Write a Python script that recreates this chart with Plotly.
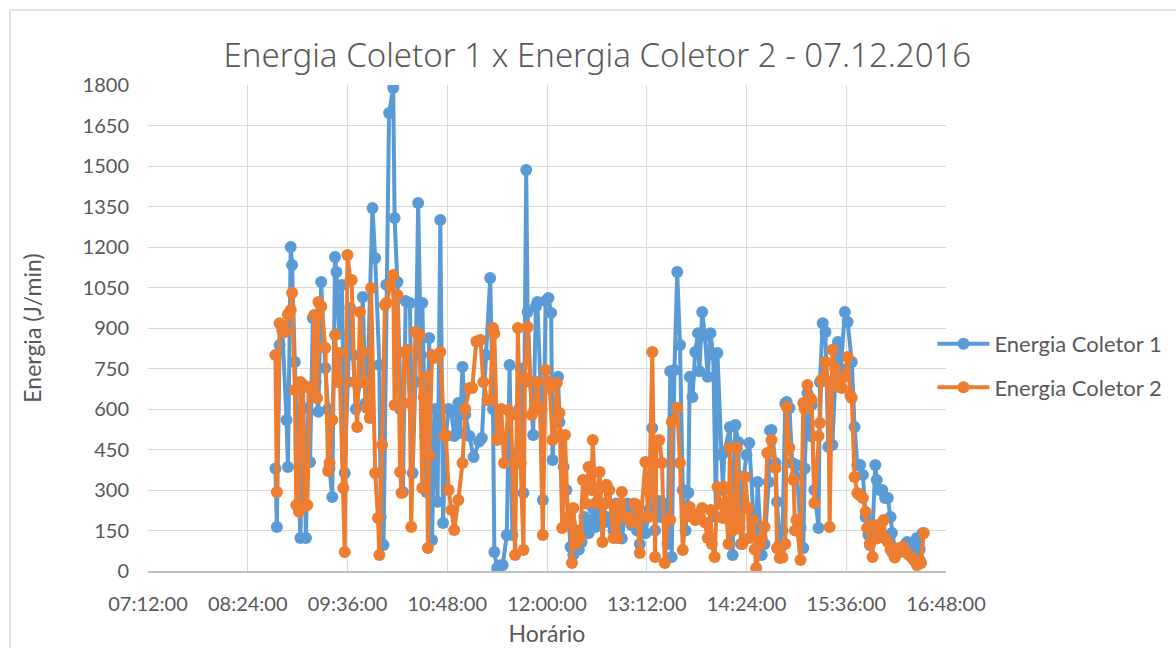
import plotly.graph_objects as go

DAY = "2016-12-07 "

c1_times = [
    "08:44", "08:45", "08:47", "08:49", "08:52", "08:53", "08:55", "08:56", "08:58", "09:02",
    "09:04", "09:06", "09:08", "09:09", "09:11", "09:13", "09:15", "09:17", "09:20", "09:22",
    "09:23", "09:25", "09:27", "09:28", "09:30", "09:32", "09:34", "09:36", "09:38", "09:40",
    "09:42", "09:45", "09:47", "09:49", "09:51", "09:54", "09:56", "09:59", "10:00", "10:02",
    "10:04", "10:06", "10:09", "10:10", "10:12", "10:14", "10:16", "10:18", "10:21", "10:23",
    "10:25", "10:27", "10:29", "10:30", "10:32", "10:33", "10:35", "10:37", "10:39", "10:41",
    "10:43", "10:45", "10:47", "10:49", "10:51", "10:53", "10:56", "10:57", "10:59", "11:01",
    "11:04", "11:07", "11:11", "11:13", "11:16", "11:19", "11:21", "11:22", "11:24", "11:26",
    "11:28", "11:31", "11:33", "11:35", "11:37", "11:40", "11:41", "11:43", "11:45", "11:46",
    "11:48", "11:50", "11:52", "11:53", "11:56", "11:57", "11:59", "12:01", "12:03", "12:04",
    "12:06", "12:08", "12:09", "12:12", "12:14", "12:17", "12:19", "12:21", "12:23", "12:25",
    "12:27", "12:30", "12:32", "12:33", "12:35", "12:37", "12:39", "12:41", "12:43", "12:45",
    "12:48", "12:50", "12:52", "12:54", "12:56", "12:58", "13:01", "13:03", "13:05", "13:07",
    "13:09", "13:11", "13:14", "13:16", "13:18", "13:20", "13:22", "13:24", "13:27", "13:29",
    "13:30", "13:32", "13:34", "13:36", "13:38", "13:40", "13:42", "13:43", "13:45", "13:47",
    "13:49", "13:50", "13:52", "13:54", "13:56", "13:58", "14:00", "14:02", "14:03", "14:06",
    "14:07", "14:08", "14:12", "14:14", "14:16", "14:18", "14:20", "14:22", "14:24", "14:26",
    "14:29", "14:31", "14:32", "14:35", "14:37", "14:40", "14:41", "14:42", "14:45", "14:46",
    "14:48", "14:50", "14:52", "14:53", "14:55", "14:57", "14:59", "15:00", "15:03", "15:05",
    "15:06", "15:08", "15:10", "15:11", "15:13", "15:16", "15:17", "15:19", "15:21", "15:23",
    "15:26", "15:28", "15:30", "15:32", "15:35", "15:37", "15:40", "15:42", "15:44", "15:46",
    "15:48", "15:50", "15:52", "15:53", "15:55", "15:57", "15:58", "16:00", "16:02", "16:04",
    "16:06", "16:08", "16:09", "16:11", "16:13", "16:15", "16:17", "16:19", "16:20", "16:22",
    "16:24", "16:26", "16:27", "16:29", "16:31",
]
c1_values = [
    380, 163, 837, 890, 559, 385, 1200, 1133, 774, 122,
    604, 122, 680, 404, 937, 700, 590, 1070, 752, 600,
    381, 274, 1163, 1107, 880, 1059, 363, 700, 974, 800,
    600, 700, 1015, 620, 800, 1344, 1159, 763, 200, 96,
    1060, 1696, 1789, 1307, 1070, 600, 293, 1000, 993, 363,
    700, 1363, 800, 993, 500, 293, 863, 115, 600, 256,
    1300, 178, 500, 600, 589, 500, 622, 511, 756, 580,
    500, 422, 480, 493, 800, 1085, 600, 70, 11, 20,
    22, 133, 763, 133, 400, 600, 750, 289, 1485, 959,
    700, 504, 980, 996, 600, 263, 1000, 1011, 956, 411,
    600, 719, 552, 385, 300, 89, 60, 150, 80, 107,
    200, 140, 180, 233, 163, 200, 250, 180, 200, 181,
    150, 250, 170, 120, 200, 250, 170, 220, 150, 100,
    180, 140, 230, 530, 150, 260, 200, 250, 100, 740,
    52, 744, 1107, 837, 300, 150, 290, 719, 644, 811,
    881, 740, 959, 870, 719, 881, 800, 200, 807, 430,
    300, 441, 533, 59, 541, 478, 100, 350, 430, 474,
    200, 120, 330, 59, 100, 330, 520, 522, 400, 256,
    100, 150, 620, 626, 604, 400, 350, 393, 160, 85,
    380, 659, 500, 615, 300, 159, 700, 918, 885, 460,
    467, 700, 848, 750, 959, 922, 774, 533, 393, 393,
    356, 200, 133, 96, 150, 393, 337, 300, 300, 270,
    270, 200, 141, 80, 70, 80, 90, 100, 107, 90,
    60, 110, 122, 80, 140,
]

c2_times = [
    "08:44", "08:45", "08:47", "08:49", "08:51", "08:53", "08:55", "08:56", "08:58", "08:59",
    "09:01", "09:02", "09:04", "09:05", "09:07", "09:09", "09:11", "09:12", "09:14", "09:15",
    "09:17", "09:20", "09:22", "09:23", "09:25", "09:27", "09:29", "09:30", "09:33", "09:34",
    "09:36", "09:38", "09:39", "09:41", "09:43", "09:45", "09:47", "09:48", "09:50", "09:52",
    "09:53", "09:56", "09:58", "09:59", "10:01", "10:03", "10:04", "10:07", "10:09", "10:10",
    "10:12", "10:14", "10:15", "10:17", "10:19", "10:21", "10:22", "10:25", "10:28", "10:30",
    "10:31", "10:33", "10:34", "10:35", "10:37", "10:39", "10:43", "10:46", "10:47", "10:49",
    "10:51", "10:53", "10:56", "10:59", "11:01", "11:04", "11:06", "11:09", "11:12", "11:14",
    "11:17", "11:19", "11:21", "11:22", "11:24", "11:25", "11:27", "11:29", "11:32", "11:34",
    "11:37", "11:39", "11:41", "11:43", "11:44", "11:46", "11:48", "11:49", "11:51", "11:53",
    "11:55", "11:57", "11:59", "12:01", "12:02", "12:04", "12:06", "12:07", "12:09", "12:11",
    "12:13", "12:15", "12:17", "12:18", "12:19", "12:21", "12:22", "12:24", "12:26", "12:28",
    "12:30", "12:32", "12:33", "12:35", "12:37", "12:38", "12:40", "12:42", "12:43", "12:45",
    "12:48", "12:49", "12:51", "12:53", "12:54", "12:56", "12:58", "13:01", "13:03", "13:05",
    "13:07", "13:08", "13:11", "13:13", "13:14", "13:16", "13:18", "13:19", "13:21", "13:23",
    "13:25", "13:27", "13:29", "13:30", "13:34", "13:36", "13:38", "13:40", "13:42", "13:43",
    "13:45", "13:47", "13:49", "13:50", "13:52", "13:54", "13:56", "13:58", "13:59", "14:01",
    "14:03", "14:05", "14:07", "14:08", "14:11", "14:12", "14:14", "14:16", "14:17", "14:19",
    "14:21", "14:23", "14:25", "14:26", "14:29", "14:30", "14:31", "14:34", "14:35", "14:37",
    "14:39", "14:42", "14:45", "14:46", "14:48", "14:50", "14:52", "14:53", "14:55", "14:58",
    "14:59", "15:00", "15:03", "15:05", "15:06", "15:08", "15:10", "15:11", "15:13", "15:16",
    "15:17", "15:18", "15:21", "15:23", "15:24", "15:26", "15:28", "15:30", "15:31", "15:33",
    "15:35", "15:37", "15:39", "15:40", "15:42", "15:44", "15:46", "15:48", "15:50", "15:51",
    "15:53", "15:55", "15:56", "15:58", "16:00", "16:01", "16:03", "16:04", "16:06", "16:08",
    "16:09", "16:11", "16:14", "16:15", "16:17", "16:19", "16:21", "16:23", "16:25", "16:27",
    "16:29", "16:30", "16:32",
]
c2_values = [
    800, 293, 918, 900, 885, 950, 967, 1030, 670, 244,
    219, 700, 690, 240, 244, 678, 650, 948, 641, 996,
    980, 826, 370, 400, 559, 874, 700, 807, 307, 70,
    1170, 1075, 1078, 700, 533, 959, 811, 700, 604, 567,
    1048, 363, 196, 59, 467, 985, 993, 1059, 1096, 615,
    1022, 367, 289, 810, 819, 622, 163, 885, 874, 307,
    644, 719, 85, 430, 800, 790, 811, 500, 504, 300,
    226, 152, 263, 400, 600, 678, 678, 850, 856, 700,
    633, 633, 900, 880, 485, 493, 600, 400, 596, 578,
    59, 900, 400, 78, 715, 904, 700, 578, 600, 700,
    600, 133, 744, 700, 678, 485, 500, 696, 585, 159,
    504, 200, 180, 30, 233, 100, 150, 122, 337, 250,
    385, 300, 485, 252, 300, 367, 107, 250, 319, 300,
    122, 240, 122, 250, 293, 200, 196, 180, 250, 244,
    67, 200, 404, 200, 300, 811, 52, 480, 485, 400,
    30, 190, 189, 552, 604, 400, 78, 200, 220, 237,
    200, 189, 210, 200, 233, 180, 122, 226, 100, 52,
    311, 250, 196, 311, 100, 456, 150, 200, 456, 159,
    100, 348, 233, 122, 189, 80, 11, 100, 122, 163,
    437, 485, 381, 85, 48, 50, 100, 607, 456, 337,
    150, 189, 41, 622, 600, 689, 640, 633, 252, 500,
    548, 707, 774, 700, 163, 819, 750, 707, 681, 678,
    720, 793, 650, 641, 348, 289, 280, 270, 219, 159,
    100, 52, 170, 120, 150, 175, 189, 120, 107, 80,
    70, 50, 85, 70, 89, 70, 60, 52, 40, 22,
    40, 30, 141,
]

x_tick_times = ["07:12", "08:24", "09:36", "10:48", "12:00", "13:12", "14:24", "15:36", "16:48"]
x_tick_labels = ["07:12:00", "08:24:00", "09:36:00", "10:48:00", "12:00:00",
                 "13:12:00", "14:24:00", "15:36:00", "16:48:00"]
y_tick_values = [0, 150, 300, 450, 600, 750, 900, 1050, 1200, 1350, 1500, 1650, 1800]

series = [
    ("Energia Coletor 1", c1_times, c1_values, "#5B9BD5"),
    ("Energia Coletor 2", c2_times, c2_values, "#ED7D31"),
]

FONT = "Lato, 'Open Sans', sans-serif"
TITLE_FONT = "Noto Sans"
TXT = "#595959"
GRID = "#D9D9D9"

fig = go.Figure()
for i, (name, times, vals, col) in enumerate(series):
    fig.add_trace(go.Scatter(
        x=[DAY + t for t in times], y=vals, name=name,
        mode="lines+markers", legendgroup=f"g{i}",
        line=dict(color=col, width=4),
        marker=dict(size=12, color=col),
    ))

fig.update_layout(
    width=1176, height=648,
    paper_bgcolor="white", plot_bgcolor="white",
    margin=dict(l=148, r=230, t=85, b=77, autoexpand=False),
    font=dict(family=FONT, size=20, color=TXT),
    title=dict(text="Energia Coletor 1 x Energia Coletor 2 - 07.12.2016",
               font=dict(family=TITLE_FONT, size=33, color=TXT, weight=300),
               x=0.508, xref="container", xanchor="center",
               y=1 - 55 / 648, yref="container", yanchor="middle"),
    legend=dict(x=0.983, xanchor="left", y=0.422, yanchor="middle",
                font=dict(family=FONT, size=22, color=TXT),
                itemwidth=52, tracegroupgap=12, bgcolor="rgba(0,0,0,0)"),
    showlegend=True,
    shapes=[dict(type="rect", xref="paper", yref="paper",
                 x0=-0.1729, x1=1.3, y0=-0.2, y1=1.1543,
                 line=dict(color=GRID, width=1.5), fillcolor="rgba(0,0,0,0)",
                 layer="below")],
)

fig.update_xaxes(
    type="date", automargin=False,
    range=[DAY + x_tick_times[0], DAY + x_tick_times[-1]],
    tickmode="array", tickvals=[DAY + t for t in x_tick_times], ticktext=x_tick_labels,
    showgrid=True, gridcolor=GRID, gridwidth=1.3,
    showline=True, linecolor="#BFBFBF", linewidth=2,
    ticks="", ticklabelstandoff=14,
    tickfont=dict(family=FONT, size=20, color=TXT),
    title=dict(text="Horário", font=dict(family=FONT, size=23, color=TXT), standoff=12),
    zeroline=False,
)
fig.update_yaxes(
    range=[0, 1800], tickmode="array", tickvals=y_tick_values, automargin=False,
    showgrid=True, gridcolor=GRID, gridwidth=1.3,
    showline=False, zeroline=False, ticks="", ticklabelstandoff=18,
    tickfont=dict(family=FONT, size=20, color=TXT),
    title=dict(text="Energia (J/min)", font=dict(family=FONT, size=23, color=TXT), standoff=34),
)

fig.write_html("out.html")
